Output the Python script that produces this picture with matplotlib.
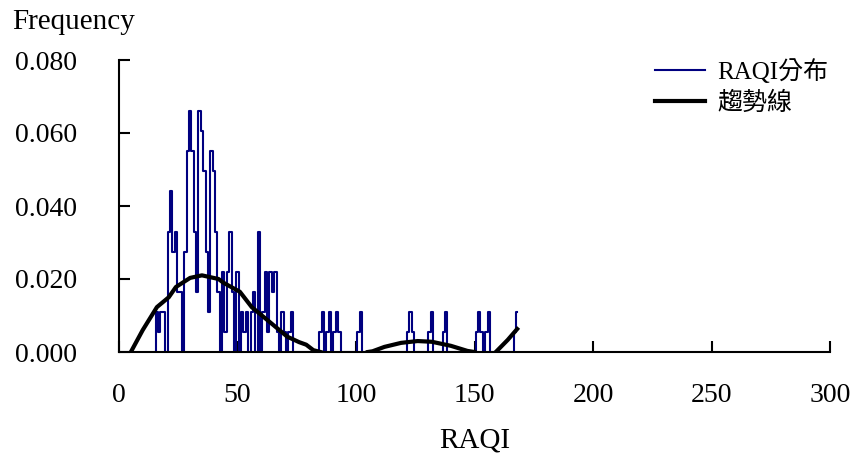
import numpy as np
import matplotlib
matplotlib.use('Agg')
import matplotlib.pyplot as plt

# RAQI values (integers) and their frequency
raqi = list(range(15, 169))
freq_counts = {
    16: 0.011, 17: 0.0055, 18: 0.011, 19: 0.011,
    21: 0.033, 22: 0.044, 23: 0.0275, 24: 0.033, 25: 0.0165, 26: 0.0165,
    28: 0.0275, 29: 0.055, 30: 0.066, 31: 0.055, 32: 0.033, 33: 0.0165,
    34: 0.066, 35: 0.0605, 36: 0.0495, 37: 0.0275, 38: 0.011,
    39: 0.055, 40: 0.0495, 41: 0.033, 42: 0.0165,
    44: 0.022, 45: 0.0055, 46: 0.022, 47: 0.033, 48: 0.0165,
    50: 0.022, 52: 0.011, 53: 0.0055, 54: 0.011,
    56: 0.011, 57: 0.0165, 59: 0.033, 61: 0.011, 62: 0.022,
    63: 0.0055, 64: 0.022, 65: 0.0165, 66: 0.022, 67: 0.0055,
    69: 0.011, 70: 0.0055, 72: 0.0055, 73: 0.011,
    85: 0.0055, 86: 0.011, 88: 0.0055, 89: 0.011,
    91: 0.0055, 92: 0.011, 93: 0.0055,
    101: 0.0055, 102: 0.011,
    122: 0.0055, 123: 0.011, 124: 0.0055,
    131: 0.0055, 132: 0.011,
    137: 0.0055, 138: 0.011,
    151: 0.0055, 152: 0.011, 153: 0.0055,
    155: 0.0055, 156: 0.011,
    167: 0.0055, 168: 0.011,
}
freq = [freq_counts.get(v, 0.0) for v in raqi]

# trend line (gaps where it drops below 0)
trend_x = [5, 10, 16, 21, 24, 30, 35, 42, 44, 51, 56, 64, 71, 76, 79, 82, 85,
           95,
           105, 107, 112, 119, 126, 132, 140, 147, 150,
           155,
           159, 164, 168]
trend_y = [0, 0.006, 0.0123, 0.015, 0.0178, 0.0203, 0.021, 0.020, 0.019, 0.0165,
           0.0123, 0.008, 0.0042, 0.0027, 0.002, 0.0005, 0,
           np.nan,
           0, 0.0002, 0.0014, 0.0025, 0.003, 0.0028, 0.0017, 0.0003, 0,
           np.nan,
           0, 0.0033, 0.0063]

plt.rcParams['font.family'] = ['Liberation Serif', 'Noto Sans CJK TC']

fig = plt.figure(figsize=(8.58, 4.63), dpi=100)
ax = fig.add_axes([119 / 858, 1 - 352 / 463, 711 / 858, 292 / 463])

ax.plot(raqi, freq, color='#000080', lw=1.5, drawstyle='steps-mid', label='RAQI分布')
ax.plot(trend_x, trend_y, color='black', lw=3, label='趨勢線')

ax.set_xlim(0, 300)
ax.set_ylim(0, 0.08)
ax.set_xticks(np.arange(0, 301, 50))
ax.set_yticks(np.arange(0, 0.0801, 0.02))
ax.yaxis.set_major_formatter(matplotlib.ticker.FormatStrFormatter('%.3f'))

for s in ['top', 'right']:
    ax.spines[s].set_visible(False)
for s in ['left', 'bottom']:
    ax.spines[s].set_linewidth(1.5)
ax.tick_params(direction='in', length=8, width=1.5, labelsize=20)
ax.tick_params(axis='y', pad=30)
ax.tick_params(axis='x', pad=22)

ax.set_xlabel('RAQI', fontsize=21, labelpad=14)
fig.text(12 / 858, 1 - 22 / 463, 'Frequency', fontsize=21, va='center', ha='left')

leg = ax.legend(loc='upper right', bbox_to_anchor=(1.03, 1.08), frameon=False,
                prop={'family': ['Liberation Serif', 'Noto Sans CJK TC'], 'size': 18},
                handlelength=2.0, labelspacing=0.3, handletextpad=0.5)

fig.savefig('out.png', dpi=100)
